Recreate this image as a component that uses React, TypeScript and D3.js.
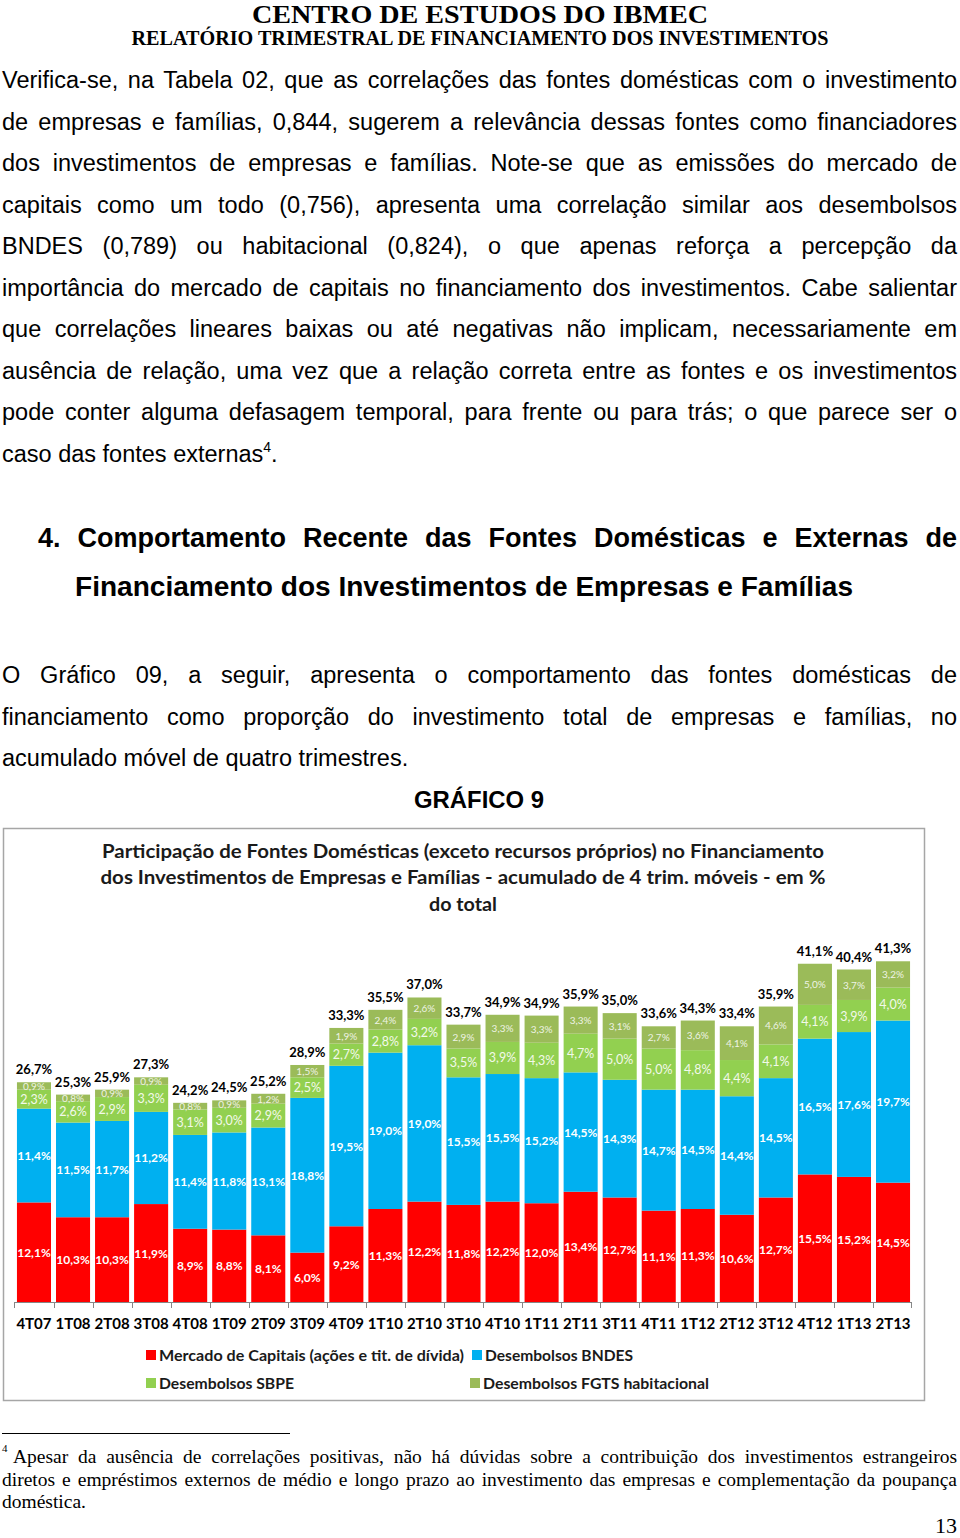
import React, { useLayoutEffect, useRef } from "react";
import * as d3 from "d3";

const categories = ["4T07","1T08","2T08","3T08","4T08","1T09","2T09","3T09","4T09","1T10","2T10","3T10","4T10","1T11","2T11","3T11","4T11","1T12","2T12","3T12","4T12","1T13","2T13"];
const mercadoCapitais = [12.1,10.3,10.3,11.9,8.9,8.8,8.1,6.0,9.2,11.3,12.2,11.8,12.2,12.0,13.4,12.7,11.1,11.3,10.6,12.7,15.5,15.2,14.5];
const bndes = [11.4,11.5,11.7,11.2,11.4,11.8,13.1,18.8,19.5,19.0,19.0,15.5,15.5,15.2,14.5,14.3,14.7,14.5,14.4,14.5,16.5,17.6,19.7];
const sbpe = [2.3,2.6,2.9,3.3,3.1,3.0,2.9,2.5,2.7,2.8,3.2,3.5,3.9,4.3,4.7,5.0,5.0,4.8,4.4,4.1,4.1,3.9,4.0];
const fgts = [0.9,0.8,0.9,0.9,0.8,0.9,1.2,1.5,1.9,2.4,2.6,2.9,3.3,3.3,3.3,3.1,2.7,3.6,4.1,4.6,5.0,3.7,3.2];
const totals = [26.7,25.3,25.9,27.3,24.2,24.5,25.2,28.9,33.3,35.5,37.0,33.7,34.9,34.9,35.9,35.0,33.6,34.3,33.4,35.9,41.1,40.4,41.3];

const seriesNames = ["Mercado de Capitais (ações e tit. de dívida)", "Desembolsos BNDES", "Desembolsos SBPE", "Desembolsos FGTS habitacional"];
const seriesColors = ["#FF0000", "#00B0F0", "#92D050", "#9BBB59"];

const bodyLines1 = [
  "Verifica-se, na Tabela 02, que as correlações das fontes domésticas com o investimento",
  "de empresas e famílias, 0,844, sugerem a relevância dessas fontes como financiadores",
  "dos investimentos de empresas e famílias. Note-se que as emissões do mercado de",
  "capitais como um todo (0,756), apresenta uma correlação similar aos desembolsos",
  "BNDES (0,789) ou habitacional (0,824), o que apenas reforça a percepção da",
  "importância do mercado de capitais no financiamento dos investimentos. Cabe salientar",
  "que correlações lineares baixas ou até negativas não implicam, necessariamente em",
  "ausência de relação, uma vez que a relação correta entre as fontes e os investimentos",
  "pode conter alguma defasagem temporal, para frente ou para trás; o que parece ser o",
];
const bodyLines2 = [
  "O Gráfico 09, a seguir, apresenta o comportamento das fontes domésticas de",
  "financiamento como proporção do investimento total de empresas e famílias, no",
];
const titleLines = [
  "Participação de Fontes Domésticas (exceto recursos próprios) no Financiamento",
  "dos Investimentos de Empresas e Famílias - acumulado de 4 trim. móveis - em %",
  "do total",
];
const footLines = [
  "Apesar da ausência de correlações positivas, não há dúvidas sobre a contribuição dos investimentos estrangeiros",
  "diretos e empréstimos externos de médio e longo prazo ao investimento das empresas e complementação da poupança",
];

const fmt = (v: number) => v.toFixed(1).replace(".", ",") + "%";

const SANS = "'Liberation Sans', Arial, sans-serif";
const SERIF = "'Liberation Serif', 'Times New Roman', serif";
const CAL = "Lato, 'Open Sans', sans-serif";

export default function App() {
  const ref = useRef<SVGSVGElement>(null);

  useLayoutEffect(() => {
    const svg = ref.current;
    if (!svg) return;
    svg.querySelectorAll("text[data-justify]").forEach((node) => {
      const el = node as SVGTextElement;
      const target = +(el.getAttribute("data-justify") || 0);
      el.setAttribute("word-spacing", "0");
      el.removeAttribute("textLength");
      const w = el.getComputedTextLength();
      const n = ((el.textContent || "").match(/ /g) || []).length;
      if (w < target && n > 0) {
        el.setAttribute("word-spacing", String((target - w) / n));
      } else if (w > target) {
        el.setAttribute("textLength", String(target));
        el.setAttribute("lengthAdjust", "spacingAndGlyphs");
      }
    });
  }, []);

  const x = d3.scaleBand<string>().domain(categories).range([15, 912]).paddingInner(0.128).paddingOuter(0.05);
  const y = d3.scaleLinear().domain([0, 45]).range([1302, 1302 - 45 * 8.23]);

  const rows = categories.map((c, i) => ({ cat: c, s0: mercadoCapitais[i], s1: bndes[i], s2: sbpe[i], s3: fgts[i] }));
  const stack = d3.stack<any>().keys(["s0", "s1", "s2", "s3"])(rows);

  const bw = x.bandwidth();
  const step = x.step();
  const labelSizes = [12, 12, 12.5, 10];
  const labelWeights = ["bold", "bold", "normal", "normal"];
  const labelFill = ["#fff", "#fff", "#F2F9EA", "#EEF3E4"];

  return (
    <svg ref={ref} width={960} height={1538} style={{ position: "absolute", left: 0, top: 0, background: "#fff" }}>
      {/* header */}
      <text x={480} y={23} textAnchor="middle" fontFamily={SERIF} fontWeight="bold" fontSize={25} textLength={456} lengthAdjust="spacingAndGlyphs">CENTRO DE ESTUDOS DO IBMEC</text>
      <text x={480} y={45} textAnchor="middle" fontFamily={SERIF} fontWeight="bold" fontSize={20} textLength={697} lengthAdjust="spacingAndGlyphs">RELATÓRIO TRIMESTRAL DE FINANCIAMENTO DOS INVESTIMENTOS</text>

      {/* paragraph 1 */}
      {bodyLines1.map((l, i) => (
        <text key={"b1" + i} x={2} y={88 + i * 41.5} fontFamily={SANS} fontSize={23.5} fill="#000" data-justify={955}>{l}</text>
      ))}
      <text x={2} y={88 + 9 * 41.5} fontFamily={SANS} fontSize={23.5} fill="#000">
        caso das fontes externas<tspan fontSize={14} dy={-10}>4</tspan><tspan dy={10}>.</tspan>
      </text>

      {/* heading */}
      <text x={38} y={547} fontFamily={SANS} fontWeight="bold" fontSize={27} data-justify={919}>4. Comportamento Recente das Fontes Domésticas e Externas de</text>
      <text x={75} y={596} fontFamily={SANS} fontWeight="bold" fontSize={27} textLength={778} lengthAdjust="spacingAndGlyphs">Financiamento dos Investimentos de Empresas e Famílias</text>

      {/* paragraph 2 */}
      {bodyLines2.map((l, i) => (
        <text key={"b2" + i} x={2} y={683 + i * 41.5} fontFamily={SANS} fontSize={23.5} data-justify={955}>{l}</text>
      ))}
      <text x={2} y={683 + 2 * 41.5} fontFamily={SANS} fontSize={23.5}>acumulado móvel de quatro trimestres.</text>

      <text x={479} y={808} textAnchor="middle" fontFamily={SANS} fontWeight="bold" fontSize={23} textLength={130} lengthAdjust="spacingAndGlyphs">GRÁFICO 9</text>

      {/* chart frame */}
      <rect x={3.5} y={828.5} width={921} height={572} fill="#fff" stroke="#A6A6A6" strokeWidth={1.5} />

      {/* chart title */}
      <text x={463} y={858} textAnchor="middle" fontFamily={CAL} fontWeight="bold" fontSize={19} fill="#1a1a1a" textLength={722} lengthAdjust="spacingAndGlyphs">{titleLines[0]}</text>
      <text x={463} y={884} textAnchor="middle" fontFamily={CAL} fontWeight="bold" fontSize={19} fill="#1a1a1a" textLength={725} lengthAdjust="spacingAndGlyphs">{titleLines[1]}</text>
      <text x={463} y={911} textAnchor="middle" fontFamily={CAL} fontWeight="bold" fontSize={19} fill="#1a1a1a" textLength={68} lengthAdjust="spacingAndGlyphs">{titleLines[2]}</text>

      {/* bars */}
      {stack.map((layer, si) => (
        <g key={"layer" + si} fill={seriesColors[si]}>
          {layer.map((d, i) => (
            <rect key={i} x={x(categories[i])} y={y(d[1])} width={bw} height={y(d[0]) - y(d[1])} />
          ))}
        </g>
      ))}
      {/* segment labels */}
      {stack.map((layer, si) => (
        <g key={"lab" + si}>
          {layer.map((d, i) => (
            <text key={i} x={(x(categories[i]) as number) + bw / 2} y={(y(d[0]) + y(d[1])) / 2} textAnchor="middle" dominantBaseline="central"
              fontFamily={CAL} fontSize={labelSizes[si]} fontWeight={labelWeights[si]} fill={labelFill[si]}>
              {fmt(d[1] - d[0])}
            </text>
          ))}
        </g>
      ))}
      {/* totals */}
      {stack[3].map((d, i) => (
        <text key={"t" + i} x={(x(categories[i]) as number) + bw / 2} y={y(d[1]) - 13} textAnchor="middle" dominantBaseline="central"
          fontFamily={CAL} fontSize={13} fontWeight="bold" fill="#000">{fmt(totals[i])}</text>
      ))}

      {/* axis */}
      <line x1={15} x2={912} y1={1302.5} y2={1302.5} stroke="#868686" strokeWidth={1} />
      {categories.map((c, i) => {
        const tx = Math.round((x(c) as number) - (step - bw) / 2) + 0.5;
        return <line key={"tk" + i} x1={tx} x2={tx} y1={1302} y2={1308} stroke="#868686" />;
      })}
      <line x1={911.5} x2={911.5} y1={1302} y2={1308} stroke="#868686" />
      {categories.map((c) => (
        <text key={"cl" + c} x={(x(c) as number) + bw / 2} y={1323} textAnchor="middle" dominantBaseline="central" fontFamily={CAL} fontWeight="bold" fontSize={15} fill="#000">{c}</text>
      ))}

      {/* legend */}
      {[
        { sx: 146, sy: 1355, tw: 305 },
        { sx: 472, sy: 1355, tw: 148 },
        { sx: 146, sy: 1383, tw: 135 },
        { sx: 470, sy: 1383, tw: 226 },
      ].map((p, i) => (
        <g key={"lg" + i}>
          <rect x={p.sx} y={p.sy - 5} width={10} height={10} fill={seriesColors[i]} />
          <text x={p.sx + 13} y={p.sy} dominantBaseline="central" fontFamily={CAL} fontWeight="bold" fontSize={15.5} fill="#1a1a1a" textLength={p.tw} lengthAdjust="spacingAndGlyphs">{seriesNames[i]}</text>
        </g>
      ))}

      {/* footnote */}
      <line x1={2} x2={290} y1={1433.5} y2={1433.5} stroke="#000" strokeWidth={1} />
      <text x={2} y={1452} fontFamily={SERIF} fontSize={11}>4</text>
      <text x={13} y={1463} fontFamily={SERIF} fontSize={19.5} data-justify={944}>{footLines[0]}</text>
      <text x={2} y={1486} fontFamily={SERIF} fontSize={19.5} data-justify={955}>{footLines[1]}</text>
      <text x={2} y={1508} fontFamily={SERIF} fontSize={19.5}>doméstica.</text>

      <text x={957} y={1533} textAnchor="end" fontFamily={SERIF} fontSize={22}>13</text>
    </svg>
  );
}
